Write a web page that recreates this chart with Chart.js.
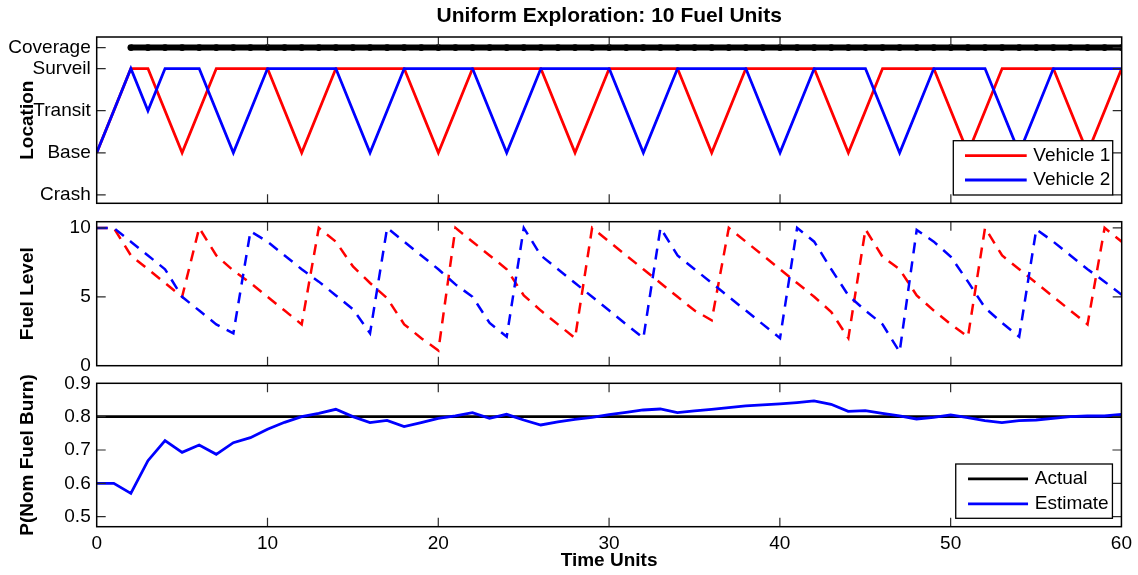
<!DOCTYPE html>
<html>
<head>
<meta charset="utf-8">
<title>Uniform Exploration: 10 Fuel Units</title>
<script src="https://cdn.jsdelivr.net/npm/chart.js@4.4.0/dist/chart.umd.min.js"></script>
<style>
  html, body { margin: 0; padding: 0; background: #fff; }
  #wrap { position: relative; width: 1138px; height: 575px; overflow: hidden; }
  .panel { position: absolute; left: 0; width: 1138px; }
  #panel-location { top: 0; height: 225px; }
  #panel-fuel { top: 200px; height: 190px; }
  #panel-burn { top: 360px; height: 215px; }
</style>
</head>
<body>
<div id="wrap">
  <div class="panel" id="panel-location"><canvas id="locationChart"></canvas></div>
  <div class="panel" id="panel-fuel"><canvas id="fuelChart"></canvas></div>
  <div class="panel" id="panel-burn"><canvas id="burnChart"></canvas></div>
</div>
<script>
// --- 1. Data ---
const timeSteps = [0, 1, 2, 3, 4, 5, 6, 7, 8, 9, 10, 11, 12, 13, 14, 15, 16, 17, 18, 19, 20,
  21, 22, 23, 24, 25, 26, 27, 28, 29, 30, 31, 32, 33, 34, 35, 36, 37, 38, 39, 40,
  41, 42, 43, 44, 45, 46, 47, 48, 49, 50, 51, 52, 53, 54, 55, 56, 57, 58, 59, 60];
const timeTicks = [0, 10, 20, 30, 40, 50, 60];

// location panel
const locationTicks = [0, 1, 2, 3, 3.5];
const locationNames = ['Crash', 'Base', 'Transit', 'Surveil', 'Coverage'];
const vehicle1Location = [1, 2, 3, 3, 2, 1, 2, 3, 3, 3, 3, 2, 1, 2, 3, 3, 3, 3, 3, 2,
  1, 2, 3, 3, 3, 3, 3, 2, 1, 2, 3, 3, 3, 3, 3, 2, 1, 2, 3, 3,
  3, 3, 3, 2, 1, 2, 3, 3, 3, 3, 2, 1, 2, 3, 3, 3, 3, 2, 1, 2, 3];
const vehicle2Location = [1, 2, 3, 2, 3, 3, 3, 2, 1, 2, 3, 3, 3, 3, 3, 2, 1, 2, 3, 3,
  3, 3, 3, 2, 1, 2, 3, 3, 3, 3, 3, 2, 1, 2, 3, 3, 3, 3, 3, 2,
  1, 2, 3, 3, 3, 3, 2, 1, 2, 3, 3, 3, 3, 2, 1, 2, 3, 3, 3, 3, 3];
const coverageLevel = [null, null, 3.5, 3.5, 3.5, 3.5, 3.5, 3.5, 3.5, 3.5, 3.5, 3.5, 3.5, 3.5, 3.5, 3.5, 3.5, 3.5, 3.5, 3.5,
  3.5, 3.5, 3.5, 3.5, 3.5, 3.5, 3.5, 3.5, 3.5, 3.5, 3.5, 3.5, 3.5, 3.5, 3.5, 3.5, 3.5, 3.5, 3.5, 3.5,
  3.5, 3.5, 3.5, 3.5, 3.5, 3.5, 3.5, 3.5, 3.5, 3.5, 3.5, 3.5, 3.5, 3.5, 3.5, 3.5, 3.5, 3.5, 3.5, 3.5, 3.5];

// fuel panel
const fuelTicks = [0, 5, 10];
const vehicle1Fuel = [10, 10, 8.0, 7.0, 6.0, 5.0, 10, 8.0, 6.9, 6.0, 5.0, 4.0, 3.0, 10, 9.0, 7.2, 6.0, 4.9, 3.0, 2.0,
  1.1, 10, 9.0, 8.0, 7.0, 5.1, 4.0, 3.0, 2.0, 10, 9.0, 8.0, 7.0, 6.0, 5.0, 4.0, 3.3, 10, 9.0, 8.0,
  7.0, 6.0, 5.0, 3.9, 2.0, 9.9, 7.9, 7.0, 5.1, 4.0, 3.0, 2.1, 10, 8.0, 7.0, 6.0, 5.0, 4.0, 3.0, 10, 9.0];
const vehicle2Fuel = [10, 10, 9.0, 8.0, 7.0, 5.0, 4.0, 3.0, 2.35, 9.75, 9.0, 8.0, 7.0, 6.1, 5.1, 4.1, 2.35, 10, 9.0, 8.0,
  7.0, 5.9, 5.0, 3.1, 2.1, 10, 8.0, 7.0, 6.0, 5.0, 4.0, 3.0, 2.0, 10, 8.0, 7.0, 6.0, 5.0, 4.0, 3.0,
  2.0, 10, 9.0, 7.0, 5.1, 4.0, 3.0, 1.0, 9.85, 9.0, 7.9, 6.1, 4.2, 3.1, 2.1, 9.9, 9.0, 8.0, 7.0, 6.1, 5.15];

// nominal fuel burn panel
const burnTicks = [0.5, 0.6, 0.7, 0.8, 0.9];
const actualTimes = [0, 60];
const actualBurn = [0.8, 0.8];
const estimatedBurn = [0.600, 0.600, 0.570, 0.668, 0.728, 0.693, 0.715, 0.687, 0.722, 0.737,
  0.762, 0.783, 0.800, 0.810, 0.822, 0.800, 0.782, 0.789, 0.770, 0.782,
  0.795, 0.802, 0.812, 0.795, 0.807, 0.790, 0.775, 0.784, 0.792, 0.798,
  0.806, 0.813, 0.820, 0.823, 0.812, 0.817, 0.822, 0.827, 0.832, 0.835,
  0.838, 0.842, 0.847, 0.837, 0.816, 0.818, 0.810, 0.802, 0.793, 0.798,
  0.805, 0.797, 0.788, 0.782, 0.788, 0.790, 0.795, 0.800, 0.802, 0.802, 0.807];

// --- 2. Shared setup ---
const FONT = '"Liberation Sans", Arial, Helvetica, sans-serif';
Chart.defaults.font.family = FONT;
Chart.defaults.font.size = 19;
Chart.defaults.color = '#000';
Chart.defaults.animation = false;

const Y_AXIS_WIDTH = 96.7;
const RIGHT_GAP = 16.3;

const toPoints = (xs, ys) => xs.map((x, i) => ({ x: x, y: ys[i] }));

// MATLAB style box with inward ticks on all four sides
const matlabFrame = {
  id: 'matlabFrame',
  afterDatasetsDraw(chart) {
    const { ctx, chartArea: a } = chart;
    const x = chart.scales.x;
    const y = chart.scales.y;
    const len = 9;
    ctx.save();
    ctx.setLineDash([]);
    ctx.strokeStyle = '#2b2b2b';
    ctx.lineWidth = 1.2;
    ctx.beginPath();
    x.ticks.forEach(t => {
      const px = x.getPixelForValue(t.value);
      if (px < a.left + 2 || px > a.right - 2) return;
      ctx.moveTo(px, a.bottom); ctx.lineTo(px, a.bottom - len);
      ctx.moveTo(px, a.top); ctx.lineTo(px, a.top + len);
    });
    y.ticks.forEach(t => {
      const py = y.getPixelForValue(t.value);
      if (py < a.top + 2 || py > a.bottom - 2) return;
      ctx.moveTo(a.left, py); ctx.lineTo(a.left + len, py);
      ctx.moveTo(a.right, py); ctx.lineTo(a.right - len, py);
    });
    ctx.stroke();
    ctx.strokeStyle = '#000';
    ctx.lineWidth = 1.5;
    ctx.strokeRect(a.left, a.top, a.right - a.left, a.bottom - a.top);
    ctx.restore();
  }
};

// boxed legend in the lower right corner of the plot area
const boxLegend = {
  id: 'boxLegend',
  afterDatasetsDraw(chart, args, opts) {
    if (!opts || !opts.width) return;
    const { ctx, chartArea: a } = chart;
    const items = chart.data.datasets.filter(d => d.label);
    const left = a.right - opts.right - opts.width;
    const top = a.bottom - opts.bottom - opts.height;
    ctx.save();
    ctx.setLineDash([]);
    ctx.fillStyle = '#fff';
    ctx.fillRect(left, top, opts.width, opts.height);
    ctx.strokeStyle = '#000';
    ctx.lineWidth = 1.3;
    ctx.strokeRect(left, top, opts.width, opts.height);
    ctx.font = '19px ' + FONT;
    ctx.textBaseline = 'middle';
    items.forEach((d, i) => {
      const rowY = top + opts.firstRow + i * opts.rowGap;
      ctx.strokeStyle = d.borderColor;
      ctx.lineWidth = d.borderWidth;
      ctx.beginPath();
      ctx.moveTo(left + opts.lineStart, rowY);
      ctx.lineTo(left + opts.lineEnd, rowY);
      ctx.stroke();
      ctx.fillStyle = '#000';
      ctx.fillText(d.label, left + opts.textX, rowY);
    });
    ctx.restore();
  }
};

const timeAxis = (height, extra) => Object.assign({
  type: 'linear',
  position: 'bottom',
  min: 0,
  max: 60,
  grid: { display: false, drawTicks: false },
  border: { display: false },
  ticks: { display: false },
  afterBuildTicks: s => { s.ticks = timeTicks.map(v => ({ value: v })); },
  afterFit: s => { s.height = height; }
}, extra);

const valueAxis = (min, max, tickValues, label, format) => ({
  type: 'linear',
  min: min,
  max: max,
  grid: { display: false, drawTicks: false },
  border: { display: false },
  ticks: { padding: 6, callback: format },
  afterBuildTicks: s => { s.ticks = tickValues.map(v => ({ value: v })); },
  afterFit: s => { s.width = Y_AXIS_WIDTH; },
  title: {
    display: true,
    text: label,
    font: { size: 19, weight: 'bold' },
    padding: { top: 16.6, bottom: 0 }
  }
});

const lineSet = (label, data, color, width, extra) => Object.assign({
  label: label,
  data: data,
  borderColor: color,
  backgroundColor: color,
  borderWidth: width,
  pointRadius: 0,
  tension: 0,
  fill: false
}, extra);

// --- 3. Location panel ---
new Chart(document.getElementById('locationChart'), {
  type: 'line',
  data: {
    datasets: [
      lineSet('', toPoints(timeSteps, coverageLevel), '#000', 6, {
        pointRadius: 3.4, pointBorderWidth: 0, pointBackgroundColor: '#000', order: 2
      }),
      lineSet('Vehicle 1', toPoints(timeSteps, vehicle1Location), '#ff0000', 2.8, { order: 1 }),
      lineSet('Vehicle 2', toPoints(timeSteps, vehicle2Location), '#0000ff', 2.8, { order: 0 })
    ]
  },
  options: {
    responsive: true,
    maintainAspectRatio: false,
    layout: { padding: { top: 0, left: 0, right: RIGHT_GAP, bottom: 0 } },
    plugins: {
      legend: { display: false },
      tooltip: { enabled: false },
      boxLegend: { right: 9, bottom: 8.3, width: 159.4, height: 54.3,
        firstRow: 15, rowGap: 24.3, lineStart: 11.7, lineEnd: 73.4, textX: 80 }
    },
    scales: {
      x: timeAxis(21.7),
      xTop: timeAxis(37, {
        position: 'top',
        afterBuildTicks: s => { s.ticks = []; },
        title: {
          display: true,
          text: 'Uniform Exploration: 10 Fuel Units',
          font: { size: 21, weight: 'bold' },
          padding: { top: 3.5, bottom: 0 }
        }
      }),
      y: valueAxis(-0.2, 3.75, locationTicks, 'Location',
        v => locationNames[locationTicks.indexOf(v)])
    }
  },
  plugins: [matlabFrame, boxLegend]
});

// --- 4. Fuel panel ---
new Chart(document.getElementById('fuelChart'), {
  type: 'line',
  data: {
    datasets: [
      lineSet('Vehicle 1', toPoints(timeSteps, vehicle1Fuel), '#ff0000', 2.5, { borderDash: [11, 8], order: 1 }),
      lineSet('Vehicle 2', toPoints(timeSteps, vehicle2Fuel), '#0000ff', 2.5, { borderDash: [11, 8], order: 0 })
    ]
  },
  options: {
    responsive: true,
    maintainAspectRatio: false,
    layout: { padding: { top: 21.7, left: 0, right: RIGHT_GAP, bottom: 0 } },
    plugins: { legend: { display: false }, tooltip: { enabled: false } },
    scales: {
      x: timeAxis(24.3),
      y: valueAxis(0, 10.45, fuelTicks, 'Fuel Level', v => String(v))
    }
  },
  plugins: [matlabFrame]
});

// --- 5. Nominal fuel burn panel ---
new Chart(document.getElementById('burnChart'), {
  type: 'line',
  data: {
    datasets: [
      lineSet('Actual', toPoints(actualTimes, actualBurn), '#000', 2.8, { order: 1 }),
      lineSet('Estimate', toPoints(timeSteps, estimatedBurn), '#0000ff', 2.8, { order: 0 })
    ]
  },
  options: {
    responsive: true,
    maintainAspectRatio: false,
    layout: { padding: { top: 23.3, left: 0, right: RIGHT_GAP, bottom: 0 } },
    plugins: {
      legend: { display: false },
      tooltip: { enabled: false },
      boxLegend: { right: 9, bottom: 8.4, width: 156.7, height: 54.3,
        firstRow: 14.8, rowGap: 25, lineStart: 12.3, lineEnd: 72.3, textX: 79 }
    },
    scales: {
      x: timeAxis(48.3, {
        ticks: { display: true, padding: 6, maxRotation: 0 },
        title: {
          display: true,
          text: 'Time Units',
          font: { size: 19, weight: 'bold' },
          padding: { top: 0, bottom: 2.5 }
        }
      }),
      y: valueAxis(0.47, 0.9, burnTicks, 'P(Nom Fuel Burn)', v => v.toFixed(1))
    }
  },
  plugins: [matlabFrame, boxLegend]
});
</script>
</body>
</html>
